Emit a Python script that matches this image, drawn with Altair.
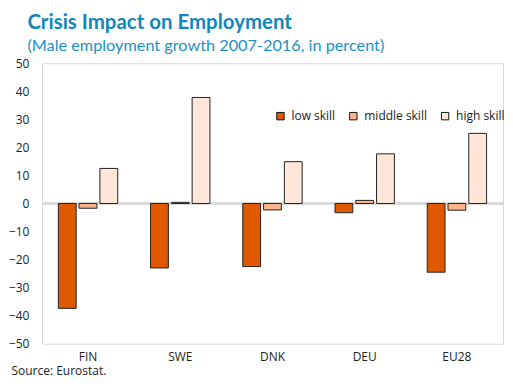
import altair as alt
import pandas as pd

countries = ["FIN", "SWE", "DNK", "DEU", "EU28"]
skills = ["low skill", "middle skill", "high skill"]
low = [-37.4, -23.0, -22.5, -3.3, -24.5]
middle = [-1.7, 0.4, -2.3, 1.1, -2.4]
high = [12.5, 37.8, 14.9, 17.7, 25.0]
colors = ["#e05800", "#fbb48c", "#ffe6d8"]

rows = []
for i, c in enumerate(countries):
    for s, vals in zip(skills, [low, middle, high]):
        rows.append({"country": c, "skill": s, "value": vals[i]})
df = pd.DataFrame(rows)

base = alt.Chart(df)

zero = base.mark_rule(color="#d9d9d9", strokeWidth=1.5).encode(y=alt.datum(0))

bars = base.mark_bar(stroke="#222222", strokeWidth=1).encode(
    x=alt.X(
        "country:N",
        sort=countries,
        title="Source: Eurostat.",
        scale=alt.Scale(paddingInner=0.356, paddingOuter=0.178),
    ),
    xOffset=alt.XOffset("skill:N", sort=skills, scale=alt.Scale(paddingInner=0.143)),
    y=alt.Y(
        "value:Q",
        title=None,
        scale=alt.Scale(domain=[-50, 50], nice=False),
    ),
    color=alt.Color(
        "skill:N",
        sort=skills,
        scale=alt.Scale(domain=skills, range=colors),
        legend=alt.Legend(
            title=None,
            orient="none",
            legendX=233,
            legendY=47,
            padding=0,
            direction="horizontal",
            symbolType="square",
            symbolSize=55,
            symbolStrokeColor="#111111",
            symbolStrokeWidth=1,
            labelFont="Open Sans",
            labelFontSize=12,
            labelColor="#222222",
            labelOffset=5,
            columnPadding=12,
        ),
    ),
)

chart = (
    alt.layer(zero, bars)
    .properties(
        width=462,
        height=281,
        padding={"left": 0, "top": 4, "right": 0, "bottom": 0},
        title=alt.TitleParams(
            text="Crisis Impact on Employment",
            subtitle="(Male employment growth 2007-2016, in percent)",
            anchor="start",
            frame="bounds",
            dx=19,
            font="Lato",
            fontSize=20.5,
            fontWeight="bold",
            color="#1287b9",
            subtitleFont="Lato",
            subtitleFontSize=16.3,
            subtitleColor="#1b92c6",
            subtitlePadding=5,
            offset=3,
        ),
    )
    .configure_view(stroke="#d9d9d9", strokeWidth=1)
    .configure_axisY(
        values=list(range(-50, 51, 10)),
        labelOverlap=False,
        grid=False,
        ticks=False,
        tickSize=0,
        domain=False,
        labelFont="Open Sans",
        labelFontSize=12,
        labelColor="#222222",
        labelPadding=13,
    )
    .configure_axisX(
        titleAnchor="start",
        titleAlign="left",
        titleBaseline="alphabetic",
        titleX=-31,
        titleY=31,
        titleFont="Open Sans",
        titleFontSize=12,
        titleFontWeight="normal",
        titleColor="#222222",
        labelAngle=0,
        labelFont="Open Sans",
        labelFontSize=12,
        labelColor="#222222",
        labelPadding=8,
        ticks=False,
        tickSize=0,
        domain=False,
        grid=False,
    )
)

chart.save("out.html", embed_options={"renderer": "svg", "actions": False})
